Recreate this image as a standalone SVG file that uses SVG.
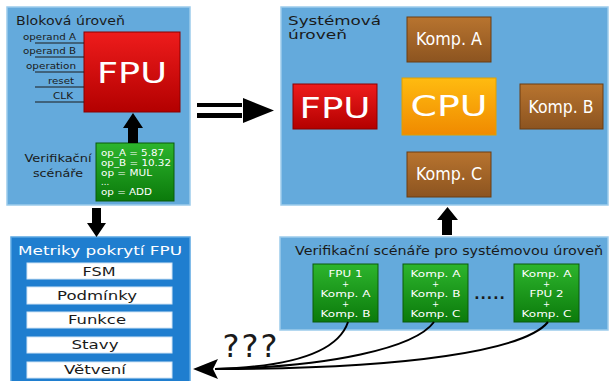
<svg xmlns="http://www.w3.org/2000/svg" width="610" height="381" viewBox="0 0 610 381">
<defs>
<linearGradient id="gRed" x1="0" y1="0" x2="0" y2="1"><stop offset="0" stop-color="#ee1c1c"/><stop offset="1" stop-color="#b30000"/></linearGradient>
<linearGradient id="gGreen" x1="0" y1="0" x2="0" y2="1"><stop offset="0" stop-color="#2db52d"/><stop offset="1" stop-color="#0b7a0b"/></linearGradient>
<linearGradient id="gOrange" x1="0" y1="0" x2="0" y2="1"><stop offset="0" stop-color="#ffbb10"/><stop offset="1" stop-color="#f08a00"/></linearGradient>
<linearGradient id="gBrown" x1="0" y1="0" x2="0" y2="1"><stop offset="0" stop-color="#b8742f"/><stop offset="1" stop-color="#8c5420"/></linearGradient>
</defs>
<style>
.panel{fill:#64aadc;stroke:#9ccbeb;stroke-width:1.5}
.dpanel{fill:#1f7ecf;stroke:#5aa6e2;stroke-width:1.5}
.t{font-family:"DejaVu Sans","Liberation Sans",sans-serif;fill:#1a1a1a}
.w{font-family:"DejaVu Sans","Liberation Sans",sans-serif;fill:#ffffff}
.wc{font-family:"DejaVu Sans Condensed","DejaVu Sans","Liberation Sans",sans-serif;fill:#ffffff}
.red{fill:url(#gRed);stroke:#8a0000;stroke-width:1}
.green{fill:url(#gGreen);stroke:#0a5a0a;stroke-width:1}
.brown{fill:url(#gBrown);stroke:#6a3c12;stroke-width:1}
.orange{fill:url(#gOrange);stroke:#e0a000;stroke-width:1}
.row{fill:#ffffff;stroke:#cfe3f5;stroke-width:1}
.in{stroke:#1a1a1a;stroke-width:1}
.curve{fill:none;stroke:#000;stroke-width:2}
</style>

<g id="block-level">
<rect class="panel" x="7" y="7" width="183" height="198"/>
<text class="t" x="16" y="25" font-size="12.5" textLength="109" lengthAdjust="spacingAndGlyphs">Bloková úroveň</text>
</g>

<g id="block-fpu">
<rect class="red" x="84" y="32" width="96" height="80"/>
<text class="w" x="132" y="83" font-size="29" text-anchor="middle" textLength="70" lengthAdjust="spacingAndGlyphs">FPU</text>
</g>

<g id="inputs">
<line class="in" x1="35" y1="43" x2="84" y2="43"/>
<line class="in" x1="35" y1="57" x2="84" y2="57"/>
<line class="in" x1="35" y1="72" x2="84" y2="72"/>
<line class="in" x1="35" y1="87" x2="84" y2="87"/>
<line class="in" x1="35" y1="102" x2="84" y2="102"/>
<text class="t" x="76" y="40" font-size="8" text-anchor="end" textLength="53" lengthAdjust="spacingAndGlyphs">operand A</text>
<text class="t" x="76" y="54" font-size="8" text-anchor="end" textLength="53" lengthAdjust="spacingAndGlyphs">operand B</text>
<text class="t" x="76" y="69" font-size="8" text-anchor="end" textLength="50" lengthAdjust="spacingAndGlyphs">operation</text>
<text class="t" x="74" y="84" font-size="8" text-anchor="end" textLength="26" lengthAdjust="spacingAndGlyphs">reset</text>
<text class="t" x="73" y="99" font-size="8" text-anchor="end" textLength="20" lengthAdjust="spacingAndGlyphs">CLK</text>
</g>

<g id="block-scenarios">
<text class="t" x="58" y="162" font-size="11" text-anchor="middle" textLength="67" lengthAdjust="spacingAndGlyphs">Verifikační</text>
<text class="t" x="58" y="177" font-size="11" text-anchor="middle" textLength="50" lengthAdjust="spacingAndGlyphs">scénáře</text>
<rect class="green" x="96" y="143" width="78" height="58"/>
<text class="w" x="101" y="156" font-size="8.5" textLength="63" lengthAdjust="spacingAndGlyphs">op_A = 5.87</text>
<text class="w" x="101" y="166" font-size="8.5" textLength="70" lengthAdjust="spacingAndGlyphs">op_B = 10.32</text>
<text class="w" x="101" y="176" font-size="8.5" textLength="51" lengthAdjust="spacingAndGlyphs">op = MUL</text>
<text class="w" x="101" y="185" font-size="8.5">...</text>
<text class="w" x="101" y="195" font-size="8.5" textLength="51" lengthAdjust="spacingAndGlyphs">op = ADD</text>
</g>

<g id="system-level">
<rect class="panel" x="281" y="7" width="327" height="198"/>
<text class="t" x="288" y="25" font-size="12.5" textLength="93" lengthAdjust="spacingAndGlyphs">Systémová</text>
<text class="t" x="288" y="39" font-size="12.5" textLength="59" lengthAdjust="spacingAndGlyphs">úroveň</text>
</g>
<g id="sys-komp-a">
<rect class="brown" x="407" y="17" width="84" height="45"/>
<text class="wc" x="449" y="45" font-size="17" text-anchor="middle" textLength="66" lengthAdjust="spacingAndGlyphs">Komp. A</text>
</g>
<g id="sys-fpu">
<rect class="red" x="293" y="84" width="84" height="45"/>
<text class="w" x="335" y="118" font-size="29" text-anchor="middle" textLength="71" lengthAdjust="spacingAndGlyphs">FPU</text>
</g>
<g id="sys-cpu">
<rect class="orange" x="402" y="78" width="94" height="57"/>
<text class="w" x="449" y="116" font-size="29" text-anchor="middle" textLength="77" lengthAdjust="spacingAndGlyphs">CPU</text>
</g>
<g id="sys-komp-b">
<rect class="brown" x="520" y="84" width="83" height="45"/>
<text class="wc" x="561" y="113" font-size="17" text-anchor="middle" textLength="65" lengthAdjust="spacingAndGlyphs">Komp. B</text>
</g>
<g id="sys-komp-c">
<rect class="brown" x="407" y="152" width="84" height="45"/>
<text class="wc" x="449" y="180" font-size="17" text-anchor="middle" textLength="66" lengthAdjust="spacingAndGlyphs">Komp. C</text>
</g>

<g id="metrics">
<rect class="dpanel" x="11" y="237" width="179" height="150"/>
<text class="w" x="100" y="255" font-size="13" text-anchor="middle" textLength="164" lengthAdjust="spacingAndGlyphs">Metriky pokrytí FPU</text>
<rect class="row" x="27" y="263" width="145" height="16"/>
<rect class="row" x="27" y="287" width="145" height="17"/>
<rect class="row" x="27" y="312" width="145" height="16"/>
<rect class="row" x="27" y="337" width="145" height="16"/>
<rect class="row" x="27" y="362" width="145" height="16"/>
<text class="t" x="99" y="276" font-size="12" text-anchor="middle" textLength="33" lengthAdjust="spacingAndGlyphs">FSM</text>
<text class="t" x="97" y="300" font-size="12" text-anchor="middle" textLength="80" lengthAdjust="spacingAndGlyphs">Podmínky</text>
<text class="t" x="97" y="324" font-size="12" text-anchor="middle" textLength="58" lengthAdjust="spacingAndGlyphs">Funkce</text>
<text class="t" x="95" y="349" font-size="12" text-anchor="middle" textLength="47" lengthAdjust="spacingAndGlyphs">Stavy</text>
<text class="t" x="95" y="374" font-size="12" text-anchor="middle" textLength="62" lengthAdjust="spacingAndGlyphs">Větvení</text>
</g>

<g id="system-scenarios">
<rect class="panel" x="280" y="237" width="328" height="93"/>
<text class="t" x="449" y="255" font-size="11.5" text-anchor="middle" textLength="308" lengthAdjust="spacingAndGlyphs">Verifikační scénáře pro systémovou úroveň</text>
<text class="t" x="490" y="299" font-size="14" font-weight="bold" text-anchor="middle" letter-spacing="1">.....</text>
</g>
<g id="scenario-1">
<rect class="green" x="313" y="264" width="65" height="58"/>
<g class="w" font-size="8.5" text-anchor="middle">
<text x="345.5" y="277" textLength="34" lengthAdjust="spacingAndGlyphs">FPU 1</text><text x="345.5" y="287">+</text><text x="345.5" y="297" textLength="50" lengthAdjust="spacingAndGlyphs">Komp. A</text><text x="345.5" y="307">+</text><text x="345.5" y="317" textLength="50" lengthAdjust="spacingAndGlyphs">Komp. B</text>
</g>
</g>
<g id="scenario-2">
<rect class="green" x="403" y="264" width="65" height="58"/>
<g class="w" font-size="8.5" text-anchor="middle">
<text x="435.5" y="277" textLength="50" lengthAdjust="spacingAndGlyphs">Komp. A</text><text x="435.5" y="287">+</text><text x="435.5" y="297" textLength="50" lengthAdjust="spacingAndGlyphs">Komp. B</text><text x="435.5" y="307">+</text><text x="435.5" y="317" textLength="50" lengthAdjust="spacingAndGlyphs">Komp. C</text>
</g>
</g>
<g id="scenario-3">
<rect class="green" x="514" y="264" width="65" height="58"/>
<g class="w" font-size="8.5" text-anchor="middle">
<text x="546.5" y="277" textLength="50" lengthAdjust="spacingAndGlyphs">Komp. A</text><text x="546.5" y="287">+</text><text x="546.5" y="297" textLength="34" lengthAdjust="spacingAndGlyphs">FPU 2</text><text x="546.5" y="307">+</text><text x="546.5" y="317" textLength="50" lengthAdjust="spacingAndGlyphs">Komp. C</text>
</g>
</g>

<g id="connectors">
<polygon points="123,128 133,113 143,128 138,128 138,143 128,143 128,128" fill="#000"/>
<polygon points="92,208 101,208 101,223 106,223 96.5,237 87,223 92,223" fill="#000"/>
<rect x="197" y="103" width="45" height="4" fill="#000"/>
<rect x="197" y="113" width="45" height="5" fill="#000"/>
<polygon points="243,98 274,110.5 243,123" fill="#000"/>
<polygon points="437,220 447.5,207 458,220 452,220 452,235 442,235 442,220" fill="#000"/>
<path class="curve" d="M348,322 C338,352 290,367 215,369"/>
<path class="curve" d="M434,322 C415,348 330,367 215,369"/>
<path class="curve" d="M548,322 C525,350 410,369 215,369"/>
<polygon points="193,369 218,359 213,369 218,379" fill="#000"/>
<text class="t" x="251" y="357" font-size="32" text-anchor="middle" fill="#000" letter-spacing="2">???</text>
</g>
</svg>
